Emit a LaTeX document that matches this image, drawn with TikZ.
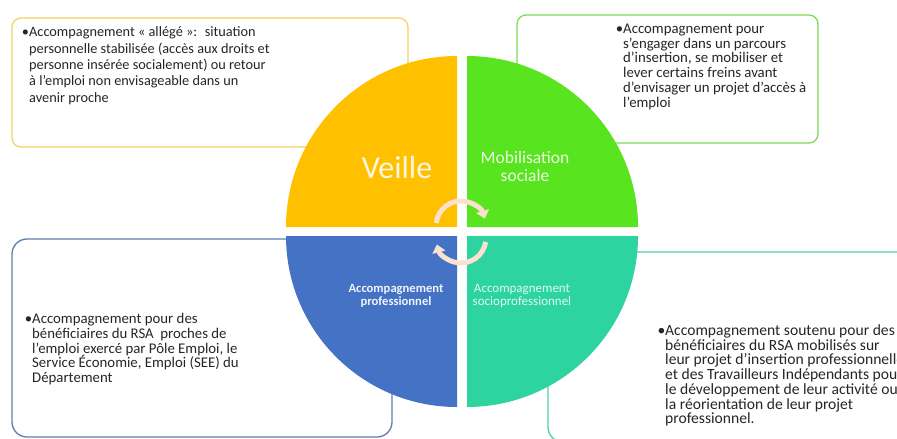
\documentclass[tikz,border=0pt]{standalone}
\usepackage{fontspec}
\setmainfont{Carlito}
\usetikzlibrary{arrows.meta}
\definecolor{cYellow}{RGB}{255,192,0}
\definecolor{cGreen}{RGB}{88,228,30}
\definecolor{cBlue}{RGB}{68,114,196}
\definecolor{cTeal}{RGB}{46,212,160}
\definecolor{bYellow}{RGB}{246,208,100}
\definecolor{bGreen}{RGB}{125,218,85}
\definecolor{bBlue}{RGB}{95,125,175}
\definecolor{bTeal}{RGB}{85,208,168}
\definecolor{txt}{RGB}{38,38,38}
\definecolor{arrowc}{RGB}{250,226,206}
\definecolor{lblY}{RGB}{255,246,226}
\definecolor{lblG}{RGB}{235,252,225}
\definecolor{lblB}{RGB}{240,244,252}
\definecolor{lblT}{RGB}{220,250,238}
\begin{document}
\begin{tikzpicture}[x=1pt,y=-1pt,
  infobox/.style={draw=#1, line width=1.3pt, fill=white},
  bodytext/.style={anchor=base west, inner sep=0pt, align=left, text=txt},
  bul/.style={anchor=base, inner sep=0pt, text=txt},
  cyclearrow/.style={draw=arrowc, line width=5pt, -{Triangle[width=13pt,length=8pt]}},
  quadlabel/.style={align=center, inner sep=0pt}
]
\useasboundingbox (0,0) rectangle (897,439);
\clip (0,0) rectangle (897,439);
\fill[white] (0,0) rectangle (897,439);

% information boxes
\draw[infobox=bYellow, rounded corners=9pt] (12,18) rectangle (408,147);
\draw[infobox=bGreen, rounded corners=9pt] (517,15) rectangle (818,143);
\draw[infobox=bBlue, rounded corners=15pt] (12,239) rectangle (392,437);
\draw[infobox=bTeal, rounded corners=15pt] (548,252) rectangle (920,442);

% quadrants
\fill[cYellow] (457,227) -- ++(-171,0) arc[start angle=180,end angle=270,radius=171] -- cycle;
\fill[cGreen] (467,227) -- ++(0,-171) arc[start angle=270,end angle=360,radius=171] -- cycle;
\fill[cBlue] (457,236) -- ++(0,171) arc[start angle=90,end angle=180,radius=171] -- cycle;
\fill[cTeal] (467,236) -- ++(171,0) arc[start angle=0,end angle=90,radius=171] -- cycle;

% cycle arrows
\draw[cyclearrow] (461,226) ++(187:25) arc[start angle=187,end angle=343,radius=25];
\draw[cyclearrow] (461,238) ++(9:25) arc[start angle=9,end angle=165,radius=25];

% quadrant labels
\node[quadlabel, text=lblY, font=\fontsize{32}{32}\selectfont] (veille) at (397,167) {Veille};
\node[quadlabel, text=lblG, font=\fontsize{17.5}{18}\selectfont] (mobil) at (525,166) {Mobilisation\\sociale};
\node[quadlabel, text=lblB, font=\fontsize{12.6}{13.5}\selectfont\bfseries] (pro) at (396,296) {Accompagnement\\professionnel};
\node[quadlabel, text=lblT, font=\fontsize{13}{13.5}\selectfont] (sociopro) at (522,296) {Accompagnement\\socioprofessionnel};

% box texts (node base = baseline of last line)
\node[bul, font=\fontsize{14.3}{16.3}\selectfont] (b1) at (25.5,36.8) {•};
\node[bodytext, font=\fontsize{14.3}{16.3}\selectfont] (t1) at (29,102) {Accompagnement «~allégé~»:~ situation\\personnelle stabilisée (accès aux droits et\\personne insérée socialement) ou retour\\à l’emploi non envisageable dans un\\avenir proche};

\node[bul, font=\fontsize{14.8}{14.7}\selectfont] (b2) at (619.5,33.5) {•};
\node[bodytext, font=\fontsize{14.8}{14.7}\selectfont] (t2) at (623,107) {Accompagnement pour\\s’engager dans un parcours\\d’insertion, se mobiliser et\\lever certains freins avant\\d’envisager un projet d’accès à\\l’emploi};

\node[bul, font=\fontsize{14.8}{14.8}\selectfont] (b3) at (28.5,323.5) {•};
\node[bodytext, font=\fontsize{14.8}{14.8}\selectfont] (t3) at (32,382.7) {Accompagnement pour des\\bénéficiaires du RSA~ proches de\\l’emploi exercé par Pôle Emploi, le\\Service Économie, Emploi (SEE) du\\Département};

\node[bul, font=\fontsize{15.6}{14.7}\selectfont] (b4) at (661.5,335.5) {•};
\node[bodytext, font=\fontsize{15.6}{14.7}\selectfont] (t4) at (665,423.7) {Accompagnement soutenu pour des\\bénéficiaires du RSA mobilisés sur\\leur projet d’insertion professionnelle\\et des Travailleurs Indépendants pour\\le développement de leur activité ou\\la réorientation de leur projet\\professionnel.};
\end{tikzpicture}
\end{document}
